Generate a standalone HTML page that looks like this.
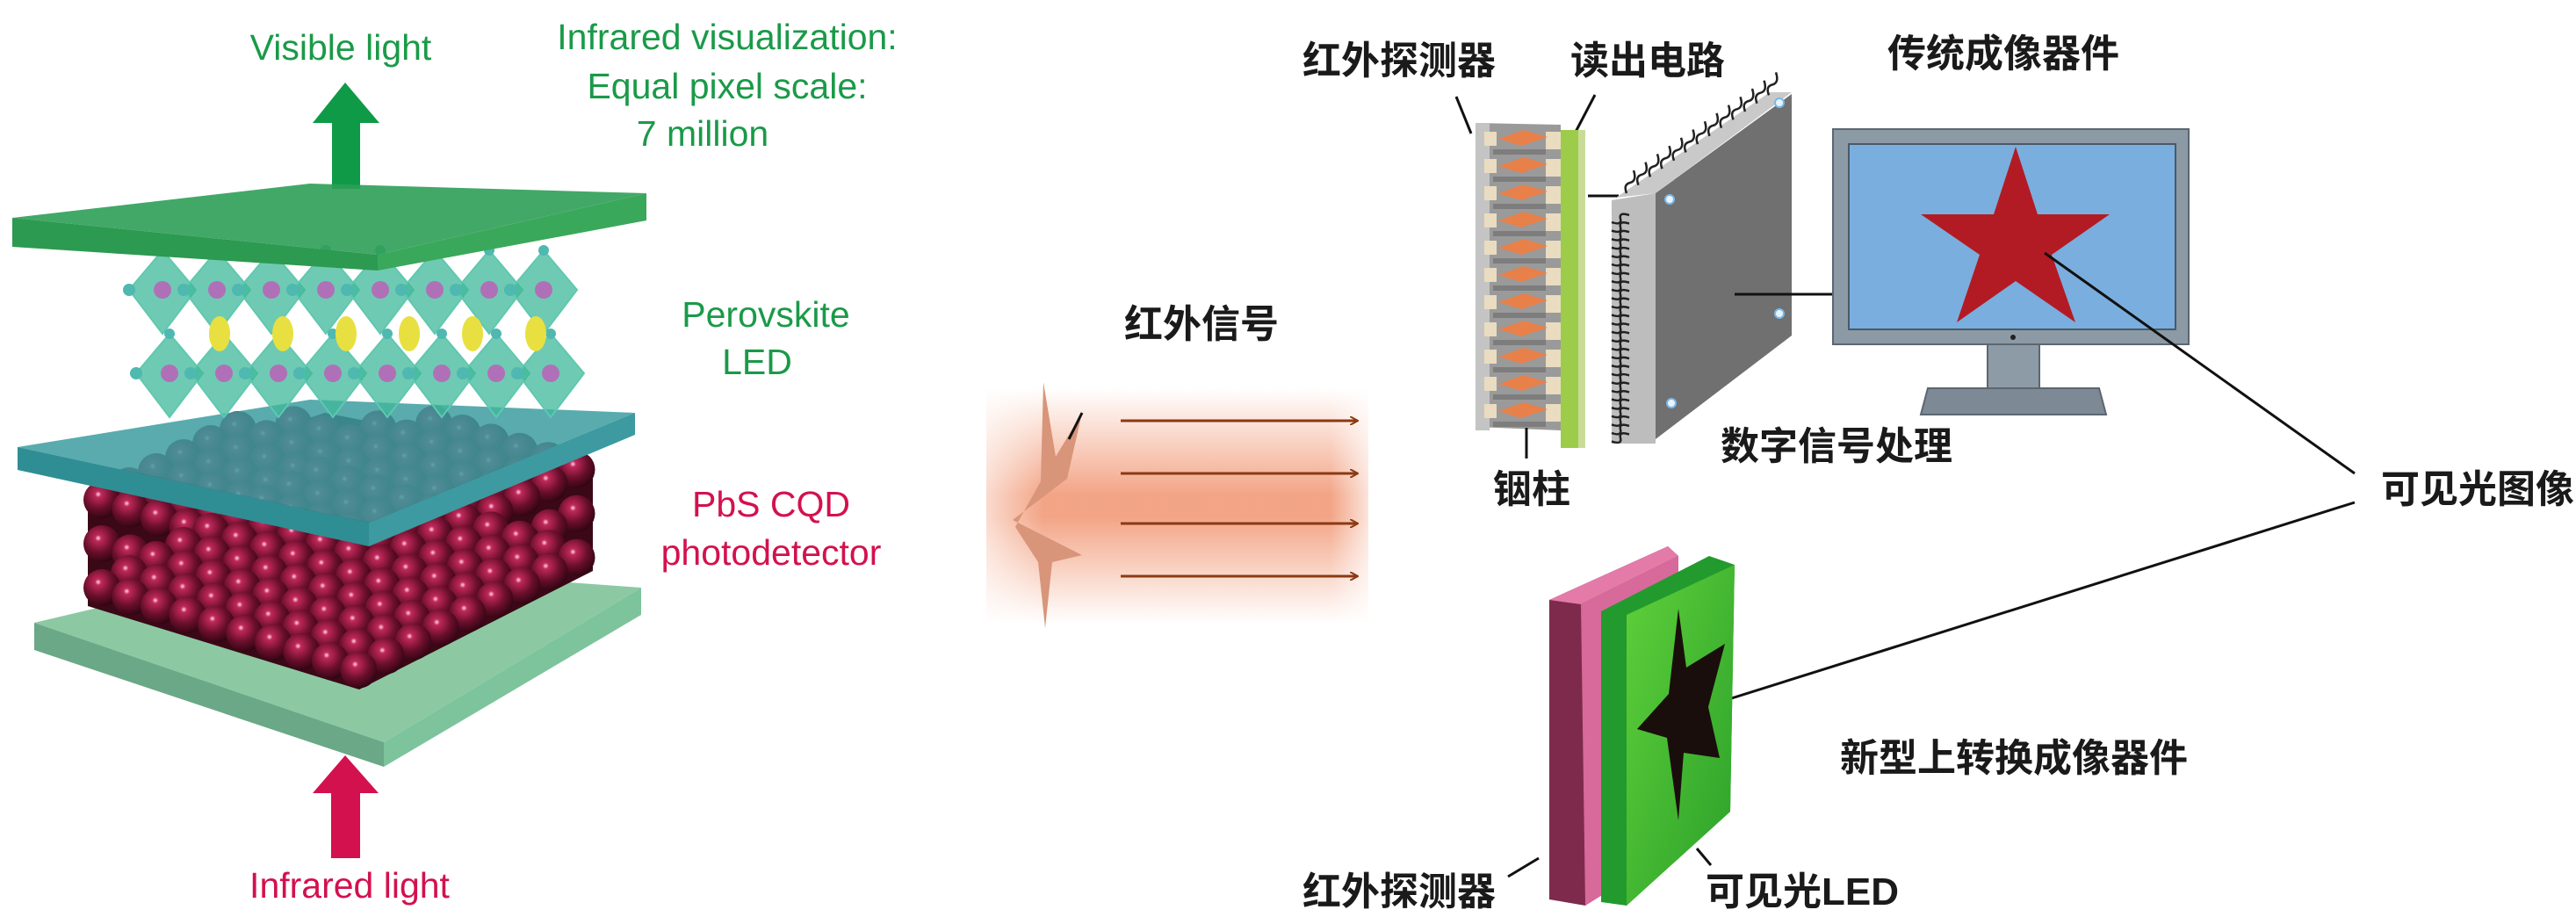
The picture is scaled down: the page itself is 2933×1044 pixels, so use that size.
<!DOCTYPE html>
<html><head><meta charset="utf-8"><style>
html,body{margin:0;padding:0;background:#fff}
svg{display:block}
.en{font-family:"Liberation Sans",sans-serif;font-size:41px}
.cn{font-family:"Liberation Sans","Noto Sans CJK SC",sans-serif;font-size:44px;font-weight:bold;fill:#1a1a1a}
</style></head><body>
<svg id="s" width="2933" height="1044" viewBox="0 0 2933 1044" xmlns="http://www.w3.org/2000/svg">
<defs>
<radialGradient id="sph" cx="0.4" cy="0.35" r="0.7">
<stop offset="0" stop-color="#ffd6e6"/><stop offset="0.12" stop-color="#c0285a"/><stop offset="0.55" stop-color="#6b0f2c"/><stop offset="1" stop-color="#2a0410"/></radialGradient>
<linearGradient id="band" x1="0" y1="0" x2="0" y2="1">
<stop offset="0" stop-color="#f4a688" stop-opacity="0"/><stop offset="0.45" stop-color="#f2a080" stop-opacity="0.95"/><stop offset="0.55" stop-color="#f2a080" stop-opacity="0.95"/><stop offset="1" stop-color="#f4a688" stop-opacity="0"/></linearGradient>
<linearGradient id="bandx" x1="0" y1="0" x2="1" y2="0">
<stop offset="0" stop-color="#fff" stop-opacity="0.6"/><stop offset="0.15" stop-color="#fff" stop-opacity="0"/><stop offset="0.9" stop-color="#fff" stop-opacity="0"/><stop offset="1" stop-color="#fff" stop-opacity="0.7"/></linearGradient>
<marker id="ar" markerWidth="10" markerHeight="10" refX="9" refY="5" orient="auto" markerUnits="userSpaceOnUse"><path d="M0,0 L9,5 L0,10" fill="none" stroke="#8b3a12" stroke-width="2"/></marker>
<linearGradient id="grn" x1="0" y1="0" x2="1" y2="1"><stop offset="0" stop-color="#5fd03a"/><stop offset="1" stop-color="#2aa02a"/></linearGradient>
</defs>

<text class="en" x="388" y="68" text-anchor="middle" fill="#1a9a48">Visible light</text>
<text class="en" x="828" y="56" text-anchor="middle" fill="#1a9a48">Infrared visualization:</text>
<text class="en" x="828" y="112" text-anchor="middle" fill="#1a9a48">Equal pixel scale:</text>
<text class="en" x="800" y="166" text-anchor="middle" fill="#1a9a48">7 million</text>
<polygon points="393,94 432,140 410,140 410,215 378,215 378,140 356,140" fill="#0f9a48"/>

<polygon points="39,709 332,640 730,669 437,845" fill="#8cc9a2"/>
<polygon points="39,709 437,845 437,873 39,740" fill="#6aa888"/>
<polygon points="437,845 730,669 730,700 437,873" fill="#7dc49c"/>

<g id="spheres"></g>

<polygon points="20,509 353,455 723,470 420,595" fill="#3c9ca0" fill-opacity="0.85"/>
<polygon points="20,509 420,595 420,622 20,535" fill="#2f8e94"/>
<polygon points="420,595 723,470 723,495 420,622" fill="#3c9aa0"/>

<g id="crys"></g>

<polygon points="14,248 353,209 736,220 430,290" fill="#2e9e58" fill-opacity="0.9"/>
<polygon points="14,248 430,290 430,308 14,281" fill="#2c9a50"/>
<polygon points="430,290 736,220 736,251 430,308" fill="#3aa85a"/>

<text class="en" x="872" y="372" text-anchor="middle" fill="#1a9a48">Perovskite</text>
<text class="en" x="862" y="426" text-anchor="middle" fill="#1a9a48">LED</text>
<text class="en" x="878" y="588" text-anchor="middle" fill="#d3114e">PbS CQD</text>
<text class="en" x="878" y="643" text-anchor="middle" fill="#d3114e">photodetector</text>
<polygon points="393,860 431,903 410,903 410,977 377,977 377,903 356,903" fill="#d3114e"/>
<text class="en" x="398" y="1022" text-anchor="middle" fill="#d3114e">Infrared light</text>

<rect x="1123" y="442" width="435" height="268" fill="url(#band)"/>
<rect x="1123" y="442" width="435" height="268" fill="url(#bandx)"/>
<polygon points="1188,435 1202,520 1232,470 1215,545 1153,592 1232,632 1198,640 1190,715 1182,640 1156,600 1185,548" fill="#d8957a"/>
<line x1="1217" y1="500" x2="1232" y2="470" stroke="#111" stroke-width="3"/>
<g stroke="#8b3a12" stroke-width="3" marker-end="url(#ar)">
<line x1="1276" y1="479" x2="1546" y2="479"/><line x1="1276" y1="539" x2="1546" y2="539"/>
<line x1="1276" y1="596" x2="1546" y2="596"/><line x1="1276" y1="656" x2="1546" y2="656"/></g>
<text class="cn" x="1368" y="384" text-anchor="middle">红外信号</text>

<text class="cn" x="1593" y="84" text-anchor="middle">红外探测器</text>
<text class="cn" x="1876" y="84" text-anchor="middle">读出电路</text>
<text class="cn" x="2281" y="76" text-anchor="middle">传统成像器件</text>
<line x1="1658" y1="110" x2="1675" y2="152" stroke="#111" stroke-width="3"/>
<line x1="1816" y1="108" x2="1793" y2="152" stroke="#111" stroke-width="3"/>

<polygon points="1680,140 1777,142 1777,490 1680,486" fill="#9a9a9a"/>
<rect x="1680" y="140" width="16" height="350" fill="#c4c4c4"/>
<g id="det"></g>
<rect x="1777" y="148" width="28" height="362" fill="#9ccc4a"/>
<rect x="1797" y="148" width="8" height="362" fill="#c8dc98"/>
<line x1="1808" y1="223" x2="1843" y2="223" stroke="#111" stroke-width="3"/>
<line x1="1738" y1="487" x2="1738" y2="522" stroke="#111" stroke-width="3"/>
<text class="cn" x="1744" y="572" text-anchor="middle">铟柱</text>

<polygon points="1840,225 2015,105 2040,105 1885,220" fill="#c9c9c9"/>
<polygon points="1835,228 1885,220 1885,505 1835,505" fill="#bdbdbd"/>
<polygon points="1885,220 2040,107 2040,382 1885,500" fill="#707070"/>
<g id="wires" fill="none" stroke="#222" stroke-width="2.5"></g>
<circle cx="1901" cy="227" r="5" fill="#e8f4ff" stroke="#7ab8e8" stroke-width="2"/>
<circle cx="2026" cy="117" r="5" fill="#e8f4ff" stroke="#7ab8e8" stroke-width="2"/>
<circle cx="2026" cy="357" r="5" fill="#e8f4ff" stroke="#7ab8e8" stroke-width="2"/>
<circle cx="1903" cy="459" r="5" fill="#e8f4ff" stroke="#7ab8e8" stroke-width="2"/>
<line x1="1975" y1="335" x2="2090" y2="335" stroke="#111" stroke-width="3"/>
<text class="cn" x="2091" y="523" text-anchor="middle">数字信号处理</text>

<rect x="2087" y="147" width="405" height="245" fill="#8c9aa6" stroke="#5c6670" stroke-width="2"/>
<rect x="2105" y="164" width="372" height="211" fill="#7aaede" stroke="#4a5a66" stroke-width="2"/>
<circle cx="2292" cy="384" r="3" fill="#222"/>
<rect x="2263" y="392" width="59" height="55" fill="#8d9ba6" stroke="#5c6670" stroke-width="2"/>
<polygon points="2195,442 2390,442 2398,472 2187,472" fill="#7d8a96" stroke="#5c6670" stroke-width="2"/>
<polygon points="2295,167 2320,244 2402,244 2336,290 2363,367 2295,320 2228,367 2254,290 2187,244 2270,244" fill="#b31b24"/>
<line x1="2328" y1="288" x2="2681" y2="539" stroke="#111" stroke-width="3"/>
<line x1="2681" y1="572" x2="1946" y2="803" stroke="#111" stroke-width="3"/>
<text class="cn" x="2821" y="572" text-anchor="middle">可见光图像</text>

<polygon points="1764,683 1899,622 1911,633 1911,964 1805,1031 1764,1024" fill="#7e2a4c"/>
<polygon points="1764,683 1899,622 1911,633 1800,688" fill="#e47aa8"/>
<polygon points="1800,688 1911,633 1911,964 1805,1031" fill="#d76a9a"/>
<polygon points="1823,696 1946,633 1975,643 1970,924 1852,1031 1823,1027" fill="#239a2e"/>
<polygon points="1852,700 1975,643 1970,924 1852,1031" fill="url(#grn)"/>
<polygon points="1911,693 1920,760 1964,733 1945,805 1958,863 1917,857 1911,934 1898,840 1864,830 1900,790" fill="#1a0e0c"/>
<text class="cn" x="2293" y="878" text-anchor="middle">新型上转换成像器件</text>
<text class="cn" x="1593" y="1030" text-anchor="middle">红外探测器</text>
<text class="cn" x="2052" y="1030" text-anchor="middle">可见光LED</text>
<line x1="1717" y1="998" x2="1752" y2="977" stroke="#111" stroke-width="3"/>
<line x1="1932" y1="966" x2="1948" y2="985" stroke="#111" stroke-width="3"/>
</svg>
<script>
var NS="http://www.w3.org/2000/svg";
function el(p,t,a){var e=document.createElementNS(NS,t);for(var k in a)e.setAttribute(k,a[k]);p.appendChild(e);return e;}
var sp=document.getElementById('spheres');
el(sp,'polygon',{points:"100,560 370,470 675,530 675,650 409,785 100,690",fill:"#3a0816"});
var list=[];
for(var L=0;L<3;L++)for(var i=0;i<10;i++)for(var j=0;j<9;j++){
 var x=116+i*32.5+j*31, y=569+i*10.4-j*16+L*50;
 if(L==0&&y<480)continue;
 if(L>0&&!(i==9||j==0||(L==2)))continue;
 list.push([x,y,L*100+(i-j)]);
}
list.sort(function(a,b){return a[2]-b[2]});
list.forEach(function(p){el(sp,'circle',{cx:p[0],cy:p[1],r:21,fill:"url(#sph)"});});
var cr=document.getElementById('crys');
for(var r=0;r<2;r++)for(var c=0;c<8;c++){
 var x=185+c*62+(r?8:0),y=330+r*95;
 el(cr,'polygon',{points:(x)+","+(y-45)+" "+(x+38)+","+y+" "+(x)+","+(y+50)+" "+(x-38)+","+y,fill:"#3fb89a","fill-opacity":"0.75",stroke:"#5fc8b0","stroke-width":"2"});
 el(cr,'circle',{cx:x,cy:y,r:10,fill:"#b070b8"});
 el(cr,'circle',{cx:x-38,cy:y,r:7,fill:"#4fb8b0"});el(cr,'circle',{cx:x,cy:y-45,r:6,fill:"#4fb8b0"});
}
for(var c=0;c<6;c++)el(cr,'ellipse',{cx:250+c*72,cy:380,rx:12,ry:20,fill:"#e8e040"});
var d=document.getElementById('det');
for(var i=0;i<11;i++){var y=150+i*31;
 el(d,'rect',{x:1690,y:y,width:14,height:16,fill:"#eadcc0"});
 el(d,'rect',{x:1760,y:y,width:17,height:20,fill:"#eadcc0"});
 el(d,'polygon',{points:"1706,"+(y+8)+" 1735,"+(y-2)+" 1762,"+(y+6)+" 1732,"+(y+16),fill:"#e8804a"});
 el(d,'rect',{x:1700,y:y+20,width:60,height:6,fill:"#6a6a6a","fill-opacity":"0.6"});
}
var w=document.getElementById('wires'),s="";
for(var i=0;i<27;i++){var y=245+i*9.6;s+="M1855,"+y+" q-12,-4 -10,4 q2,8 -10,4 ";}
for(var i=0;i<13;i++){var x=1852+i*13.5,y=220-i*9.3;s+="M"+x+","+y+" q-4,-10 4,-12 q8,-2 4,-14 ";}
el(w,'path',{d:s});
</script>
</body></html>
